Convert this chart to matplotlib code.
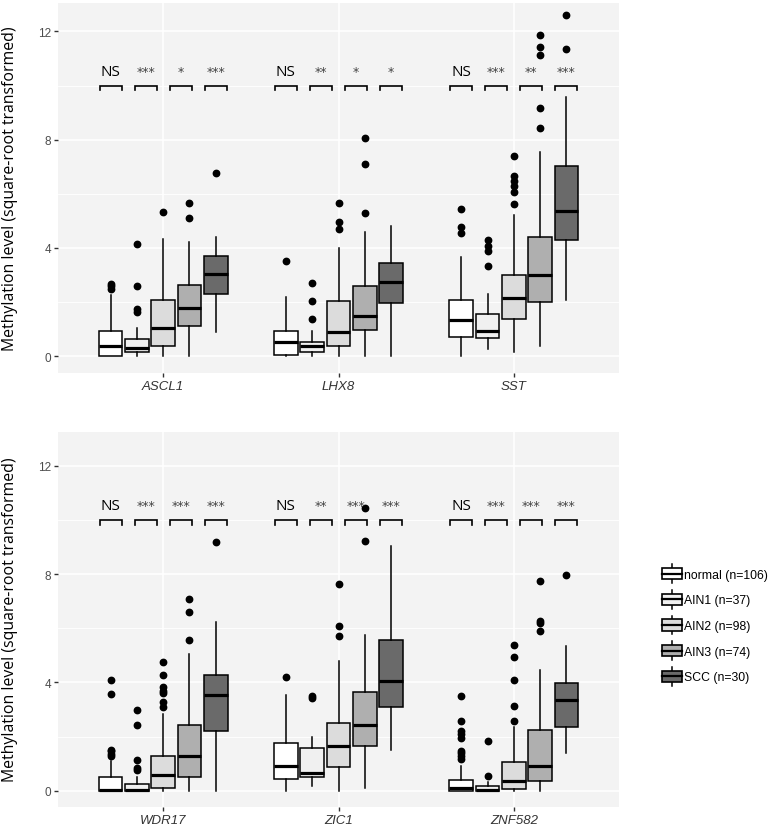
import matplotlib
matplotlib.use('Agg')
import matplotlib.pyplot as plt
from matplotlib.legend_handler import HandlerBase
from matplotlib.patches import Rectangle, Patch
from matplotlib.lines import Line2D

groups = ['normal (n=106)', 'AIN1 (n=37)', 'AIN2 (n=98)', 'AIN3 (n=74)', 'SCC (n=30)']
group_colors = ['#FFFFFF', '#F0F0F0', '#DCDCDC', '#AFAFAF', '#6A6A6A']

genes_top = ['ASCL1', 'LHX8', 'SST']
genes_bottom = ['WDR17', 'ZIC1', 'ZNF582']

# (whislo, q1, med, q3, whishi) per group
ascl1_stats = [(0, 0, 0.39, 0.95, 2.28), (0, 0.15, 0.30, 0.64, 1.03), (0, 0.36, 1.05, 2.06, 4.33),
               (0, 1.13, 1.77, 2.63, 4.21), (0.89, 2.31, 3.03, 3.72, 4.40)]
ascl1_fliers = [[2.49, 2.61, 2.67], [1.63, 1.75, 2.61, 4.15], [5.32], [5.11, 5.67], [6.76]]

lhx8_stats = [(0, 0.05, 0.54, 0.95, 2.20), (0, 0.15, 0.37, 0.52, 0.92), (0, 0.36, 0.89, 2.04, 3.99),
              (0, 0.98, 1.50, 2.60, 4.60), (0.02, 1.96, 2.76, 3.45, 4.80)]
lhx8_fliers = [[3.51], [1.38, 2.04, 2.71], [4.70, 4.97, 5.65], [5.28, 7.10, 8.05], []]

sst_stats = [(0, 0.72, 1.32, 2.08, 3.66), (0.27, 0.66, 0.92, 1.55, 2.30), (0.17, 1.38, 2.14, 3.00, 5.23),
             (0.39, 2.02, 2.99, 4.42, 7.54), (2.08, 4.30, 5.38, 7.03, 9.59)]
sst_fliers = [[4.54, 4.79, 5.43], [3.32, 3.90, 4.09, 4.31], [5.63, 6.06, 6.30, 6.49, 6.67, 7.41],
              [8.44, 9.16, 11.13, 11.42, 11.87], [11.36, 12.59]]

wdr17_stats = [(0, 0, 0.03, 0.52, 1.10), (0, 0, 0.02, 0.25, 0.50), (0, 0.09, 0.59, 1.27, 2.83),
               (0, 0.52, 1.27, 2.44, 5.05), (0, 2.22, 3.55, 4.29, 6.24)]
wdr17_fliers = [[1.27, 1.35, 1.45, 1.52, 3.57, 4.09], [0.75, 0.85, 1.15, 2.43, 2.98],
                [3.08, 3.26, 3.60, 3.69, 3.82, 4.29, 4.74], [5.55, 6.61, 7.08], [9.17]]

zic1_stats = [(0, 0.43, 0.92, 1.76, 3.55), (0.18, 0.52, 0.65, 1.58, 2.00), (0, 0.89, 1.64, 2.49, 4.80),
              (0.09, 1.66, 2.43, 3.63, 5.76), (1.50, 3.10, 4.06, 5.58, 9.05)]
zic1_fliers = [[4.19], [3.42, 3.51], [5.73, 6.10, 7.64], [9.24, 10.43], []]

znf582_stats = [(0, 0, 0.12, 0.41, 0.92), (0, 0, 0.03, 0.18, 0.31), (0, 0.06, 0.37, 1.05, 2.34),
                (0, 0.37, 0.90, 2.24, 4.46), (1.39, 2.34, 3.36, 3.98, 5.36)]
znf582_fliers = [[1.17, 1.27, 1.38, 1.48, 1.95, 2.09, 2.19, 2.59, 3.51], [0.55, 1.82],
                 [2.56, 3.12, 4.10, 4.93, 5.38], [5.89, 6.19, 6.28, 7.73], [7.97]]

sig_top = [['NS', '***', '*', '***'], ['NS', '**', '*', '*'], ['NS', '***', '**', '***']]
sig_bottom = [['NS', '***', '***', '***'], ['NS', '**', '***', '***'], ['NS', '***', '***', '***']]

box_offsets = [-0.3, -0.15, 0, 0.15, 0.3]
bracket_offsets = [-0.3, -0.1, 0.1, 0.3]


def draw_panel(ax, genes, stats_list, fliers_list, sigs, ylim):
    ax.set_facecolor('#F3F3F3')
    for s in ax.spines.values():
        s.set_visible(False)
    for gi, (stats, fliers) in enumerate(zip(stats_list, fliers_list)):
        pos = gi + 1
        bxp_stats = []
        for (lo, q1, med, q3, hi), fl in zip(stats, fliers):
            bxp_stats.append(dict(whislo=lo, q1=q1, med=med, q3=q3, whishi=hi, fliers=fl))
        res = ax.bxp(bxp_stats, positions=[pos + o for o in box_offsets], widths=0.135,
                     patch_artist=True, showcaps=False, manage_ticks=False,
                     boxprops=dict(edgecolor='black', linewidth=1.1),
                     medianprops=dict(color='black', linewidth=2.3, solid_capstyle='butt'),
                     whiskerprops=dict(color='black', linewidth=1.1),
                     flierprops=dict(marker='o', markerfacecolor='black', markeredgecolor='black',
                                     markersize=4.6, linestyle='none'))
        for b, c in zip(res['boxes'], group_colors):
            b.set_facecolor(c)
        for off, lab in zip(bracket_offsets, sigs[gi]):
            x0 = pos + off - 0.063
            x1 = pos + off + 0.063
            ax.plot([x0, x0, x1, x1], [9.83, 10, 10, 9.83], color='black', lw=1.2,
                    solid_joinstyle='miter')
            if lab == 'NS':
                ax.text(pos + off, 10.4, lab, ha='center', va='baseline', fontsize=11,
                        family='Open Sans', color='black')
            else:
                ax.text(pos + off, 10.4, lab, ha='center', va='baseline', fontsize=9,
                        family='DejaVu Sans', color='#444444')
    ax.set_xlim(0.4, 3.6)
    ax.set_ylim(*ylim)
    ax.set_xticks([1, 2, 3])
    ax.set_xticklabels(genes, fontstyle='italic', family='Liberation Sans', fontsize=9.5, color='#333333')
    ax.set_yticks([0, 4, 8, 12])
    ax.set_yticklabels(['0', '4', '8', '12'], family='Liberation Sans', fontsize=8.5, color='#4D4D4D')
    ax.set_yticks([2, 6, 10], minor=True)
    ax.tick_params(axis='both', which='major', length=3, width=1, color='#333333', pad=2)
    ax.tick_params(axis='y', which='minor', length=0)
    ax.grid(True, which='major', color='white', lw=1.2)
    ax.grid(True, which='minor', axis='y', color='white', lw=0.6)
    ax.set_axisbelow(True)
    ax.set_ylabel('Methylation level (square-root transformed)', family='Open Sans',
                  fontsize=11.4)


fig = plt.figure(figsize=(7.68, 8.29), dpi=100)
ax_top = fig.add_axes([58 / 768, 1 - 374 / 829, 561 / 768, 370 / 829])
ax_bot = fig.add_axes([58 / 768, 1 - 808 / 829, 561 / 768, 375 / 829])

draw_panel(ax_top, genes_top, [ascl1_stats, lhx8_stats, sst_stats],
           [ascl1_fliers, lhx8_fliers, sst_fliers], sig_top, (-0.62, 13.05))
draw_panel(ax_bot, genes_bottom, [wdr17_stats, zic1_stats, znf582_stats],
           [wdr17_fliers, zic1_fliers, znf582_fliers], sig_bottom, (-0.6, 13.25))
ax_top.yaxis.set_label_coords(-0.071, (374 - 189) / 370)
ax_bot.yaxis.set_label_coords(-0.071, (808 - 620) / 375)


class BoxKey(HandlerBase):
    def create_artists(self, legend, orig_handle, xdescent, ydescent, width, height, fontsize, trans):
        x0, y0 = -xdescent, -ydescent
        bh = height * 0.72
        by = y0 + (height - bh) / 2
        cx = x0 + width / 2
        stub_lo = Line2D([cx, cx], [y0 - 1, by], color='black', lw=1.1, transform=trans)
        stub_hi = Line2D([cx, cx], [by + bh, y0 + height + 1], color='black', lw=1.1, transform=trans)
        rect = Rectangle((x0, by), width, bh, facecolor=orig_handle.get_facecolor(),
                         edgecolor='black', lw=1.2, transform=trans)
        med = Line2D([x0, x0 + width], [by + bh / 2, by + bh / 2], color='black', lw=1.6,
                     transform=trans)
        return [stub_lo, stub_hi, rect, med]


handles = [Patch(facecolor=c) for c in group_colors]
fig.legend(handles, groups, handler_map={Patch: BoxKey()}, loc='center left',
           bbox_to_anchor=(656 / 768, 1 - 626 / 829), frameon=False, borderpad=0,
           handlelength=1.6, handleheight=1.6, handletextpad=0.15, labelspacing=0.82,
           prop={'family': 'Liberation Sans', 'size': 8.8})

fig.savefig('out.png', dpi=100, facecolor='white')
